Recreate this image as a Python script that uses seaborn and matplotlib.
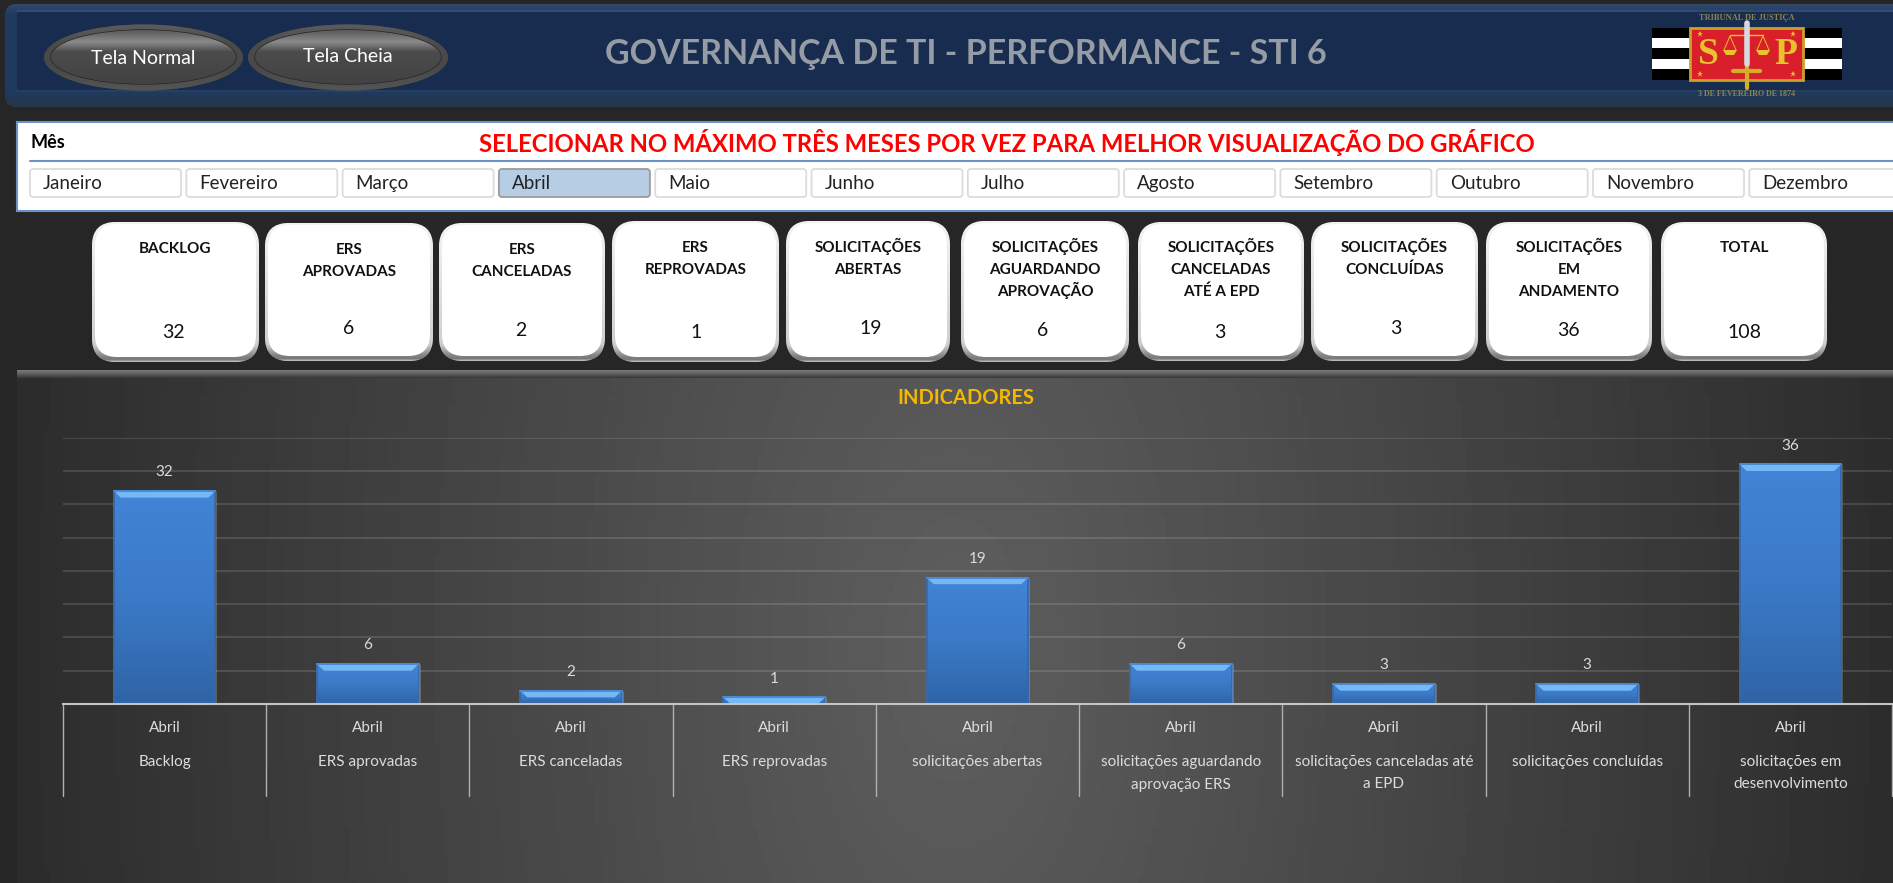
import numpy as np
import pandas as pd
import seaborn as sns
import matplotlib.pyplot as plt
from matplotlib.patches import FancyBboxPatch, Ellipse, Rectangle, Polygon
from matplotlib.colors import LinearSegmentedColormap
from matplotlib.transforms import blended_transform_factory

# Data
indicadores = ["Backlog", "ERS aprovadas", "ERS canceladas", "ERS reprovadas", "solicitações abertas",
               "solicitações aguardando\naprovação ERS", "solicitações canceladas até\na EPD",
               "solicitações concluídas", "solicitações em\ndesenvolvimento"]
valores = [32, 6, 2, 1, 19, 6, 3, 3, 36]
mes = "Abril"

card_titulos = ["BACKLOG", "ERS\nAPROVADAS", "ERS\nCANCELADAS", "ERS\nREPROVADAS", "SOLICITAÇÕES\nABERTAS",
                "SOLICITAÇÕES\nAGUARDANDO\nAPROVAÇÃO", "SOLICITAÇÕES\nCANCELADAS\nATÉ A EPD",
                "SOLICITAÇÕES\nCONCLUÍDAS", "SOLICITAÇÕES\nEM\nANDAMENTO", "TOTAL"]
card_valores = [32, 6, 2, 1, 19, 6, 3, 3, 36, 108]
meses = ["Janeiro", "Fevereiro", "Março", "Abril", "Maio", "Junho", "Julho", "Agosto",
         "Setembro", "Outubro", "Novembro", "Dezembro"]

W, H = 1893, 883
FONT = "Lato"

sns.set_theme(style="white")
plt.rcParams['font.family'] = [FONT, 'DejaVu Sans']

fig = plt.figure(figsize=(W / 100, H / 100), dpi=100, facecolor="#262626")

# Whole-figure layer in pixel coordinates for the dashboard furniture
bg = fig.add_axes([0, 0, 1, 1], zorder=0)
bg.axis("off")


def vgrad(ax, x0, x1, y0, y1, stops, clip=None, zorder=1):
    cmap = LinearSegmentedColormap.from_list("g", stops)
    im = ax.imshow(np.linspace(0, 1, 256)[:, None], cmap=cmap, extent=(x0, x1, y1, y0),
                   aspect="auto", zorder=zorder, origin="upper")
    if clip is not None:
        im.set_clip_path(clip)
    return im


def rbox(x0, y0, x1, y1, r, **kw):
    p = FancyBboxPatch((x0, y0), x1 - x0, y1 - y0, boxstyle=f"round,pad=0,rounding_size={r}", **kw)
    bg.add_patch(p)
    return p


# Header: lighter frame with a flat inner panel
head = rbox(5, 4, W + 30, 107, 12, fc="#1f3a5f", ec="none", zorder=1)
vgrad(bg, 0, W, 4, 107, [(0, "#33496a"), (0.1, "#1f3a5f"), (0.85, "#1f3a5f"), (1, "#27364c")], clip=head)
rbox(17, 11, W + 30, 91, 4, fc="#172c4e", ec="none", zorder=2)
bg.plot([17, W], [11, 11], color="#34507a", lw=1.2, zorder=2)
bg.plot([17, W], [91, 91], color="#2a4266", lw=1.2, zorder=2)

for (x0, x1, txt, ty) in [(44, 243, "Tela Normal", 59), (248, 448, "Tela Cheia", 57)]:
    cx, w = (x0 + x1) / 2, x1 - x0
    outer = Ellipse((cx, 57.5), w, 66, fc="#4a4a4a", ec="none", zorder=3)
    bg.add_patch(outer)
    vgrad(bg, x0, x1, 24, 91, ["#5c5c5c", "#4a4a4a", "#484848", "#555555"], clip=outer, zorder=3)
    inner = Ellipse((cx, 57), w - 14, 54, fc="#464646", ec="#252525", lw=1, zorder=4)
    bg.add_patch(inner)
    vgrad(bg, x0, x1, 30, 84, [(0, "#5a5a5a"), (0.22, "#8a8a8a"), (0.4, "#4c4c4c"), (1, "#424242")], clip=inner, zorder=4)
    bg.text(cx, ty, txt, color="white", fontsize=14, ha="center", va="center", zorder=5)

bg.text(966, 54, "GOVERNANÇA DE TI - PERFORMANCE - STI 6", color="#969ca5", fontsize=24.5, fontweight="bold",
        ha="center", va="center", zorder=3)

# Logo
for y0, y1, c in [(28, 38, "black"), (38, 48, "white"), (48, 59, "black"), (59, 69, "white"), (69, 80, "black")]:
    bg.add_patch(Rectangle((1652, y0), 190, y1 - y0, fc=c, ec="none", zorder=3))
bg.add_patch(Rectangle((1690, 28), 113, 52, fc="#d9202a", ec="#c9a227", lw=2, zorder=4))
bg.text(1708, 54, "S", color="#e8c22c", fontsize=27, fontweight="bold", family="Liberation Serif",
        ha="center", va="center", zorder=5)
bg.text(1786, 54, "P", color="#e8c22c", fontsize=27, fontweight="bold", family="Liberation Serif",
        ha="center", va="center", zorder=5)
bg.plot([1747, 1747], [62, 88], color="#d4ae2a", lw=3, zorder=5)
bg.plot([1747, 1747], [23, 64], color="#d8d8e0", lw=4, zorder=6)
bg.plot([1730, 1763], [35, 35], color="#e8c22c", lw=1, zorder=5)
bg.plot([1733, 1760], [71, 71], color="#d4ae2a", lw=3, zorder=5)
for sx in [1730, 1763]:
    bg.add_patch(Polygon([(sx - 7, 50), (sx + 7, 50), (sx + 4, 55), (sx - 4, 55)], fc="#e8c22c", ec="none", zorder=5))
    bg.plot([sx - 6, sx, sx + 6], [50, 36, 50], color="#e8c22c", lw=0.7, zorder=5)
bg.plot([1700, 1793, 1700, 1793], [34, 34, 74, 74], ls="none", marker="*", ms=5, color="#e8c22c", mew=0, zorder=5)
bg.text(1747, 18, "TRIBUNAL DE JUSTIÇA", color="#8a8550", fontsize=6, fontweight="bold",
        family="Liberation Serif", ha="center", va="center", zorder=5)
bg.text(1747, 94, "3 DE FEVEREIRO DE 1874", color="#8a8550", fontsize=5.8, fontweight="bold",
        family="Liberation Serif", ha="center", va="center", zorder=5)

# Month slicer
bg.add_patch(Rectangle((17, 122), W, 89, fc="white", ec="#6a94c8", lw=1.5, zorder=1))
bg.plot([30, W], [161, 161], color="#6a94c8", lw=1.5, zorder=2)
bg.text(30, 148, "Mês", color="black", fontsize=13, fontweight="bold", va="baseline", zorder=3)
bg.text(1007, 143, "SELECIONAR NO MÁXIMO TRÊS MESES POR VEZ PARA MELHOR VISUALIZAÇÃO DO GRÁFICO", color="#ff0000",
        fontsize=17.2, fontweight="bold", ha="center", va="center", zorder=3)
for i, m in enumerate(meses):
    x0 = 30 + i * 156.3
    ativo = m == mes
    rbox(x0, 169, x0 + 151, 197, 3, fc="#b7cde4" if ativo else "white", ec="#9b9b9b" if ativo else "#dcdcdc",
         lw=1.3, zorder=2)
    bg.text(x0 + 13, 189, m, color="#222222", fontsize=13.5, va="baseline", zorder=3)

# KPI cards: left, right, top, bottom, y of first title line, centre and y of value
card_x0 = [92, 265, 439, 612, 786, 961, 1138, 1311, 1486, 1661]
card_x1 = [259, 433, 605, 779, 950, 1129, 1304, 1478, 1652, 1827]
card_y0 = [222, 223, 223, 221, 221, 221, 222, 222, 222, 222]
card_y1 = [362, 361, 361, 362, 362, 362, 361, 361, 361, 361]
title_y = [247, 248, 248, 246, 246, 246, 246, 246, 246, 246]
value_x = [173, 349, 521, 696, 871, 1043, 1220, 1396, 1568, 1744]
value_y = [332, 329, 330, 332, 329, 330, 332, 329, 330, 332]
for i in range(len(card_titulos)):
    x0, x1, y0, y1 = card_x0[i], card_x1[i], card_y0[i], card_y1[i]
    outer = rbox(x0, y0, x1, y1, 24, fc="#9a9a9a", ec="none", zorder=1)
    vgrad(bg, x0, x1, y0, y1, [(0, "#f4f4f4"), (0.88, "#cfcfcf"), (0.96, "#858585"), (0.985, "#777777"), (1, "#c4c4c4")],
          clip=outer, zorder=1)
    rbox(x0 + 3, y0 + 2, x1 - 3, y1 - 5, 22, fc="white", ec="none", zorder=2)
    cx = (x0 + x1) / 2
    for j, linha in enumerate(card_titulos[i].split("\n")):
        bg.text(cx, title_y[i] + 6 + j * 22, linha, color="#111111", fontsize=11, fontweight="bold",
                ha="center", va="baseline", zorder=3)
    bg.text(value_x[i], value_y[i], str(card_valores[i]), color="#111111", fontsize=14, ha="center", va="center", zorder=3)

# Chart panel background
xx = (np.linspace(17, W, 400) - 955) / 940
yy = (np.linspace(378, H, 120)[:, None] - 650) / 400
panel = 0.175 + 0.195 * np.clip(1 - np.sqrt(xx ** 2 + 0.05 * yy ** 2), 0, 1)
bg.imshow(np.clip(panel, 0, 1), cmap="gray", vmin=0, vmax=1, extent=(17, W, H, 378), aspect="auto", zorder=1)
vgrad(bg, 17, W, 370, 378, ["#7c7c7c", "#5e5e5e", "#363636"], zorder=2)
bg.text(966, 398, "INDICADORES", color="#f5b800", fontsize=14.5, fontweight="bold", ha="center", va="center", zorder=3)

bg.set_xlim(0, W)
bg.set_ylim(H, 0)

# Chart
ax = fig.add_axes([63 / W, 1 - 704 / H, (1892 - 63) / W, (704 - 437.7) / H], zorder=2)
ax.patch.set_alpha(0)
df = pd.DataFrame({"indicador": indicadores, "valor": valores})
sns.barplot(data=df, x="indicador", y="valor", color="#3c7dcb", width=0.5, saturation=1, ax=ax, zorder=3)
ax.set_ylim(0, 40)
ax.set_xlim(-0.5, len(valores) - 0.5)
ax.set_yticks(range(0, 45, 5))
ax.set_xticks([])
ax.set_xlabel("")
ax.set_ylabel("")
ax.tick_params(left=False, labelleft=False, bottom=False)
ax.yaxis.grid(True, color="white", alpha=0.13, lw=1.4, zorder=0)
ax.set_axisbelow(True)
for s in ["top", "left", "right"]:
    ax.spines[s].set_visible(False)
ax.spines["bottom"].set_color("#c4c4c4")
ax.spines["bottom"].set_linewidth(1.5)
ax.spines["bottom"].set_zorder(6)

dx, dy = 7 / 203, 1.0
for bar in ax.patches:
    x, w, h = bar.get_x(), bar.get_width(), bar.get_height()
    vgrad(ax, x, x + w, 0, h, ["#4284d6", "#3b7ac8", "#2f64a6"], zorder=3.1).set_extent((x, x + w, 0, h))
    ax.add_patch(Rectangle((x, 0), w, h, fc="none", ec="#3567a8", lw=1.2, zorder=3.2))
    ax.add_patch(Polygon([(x, h), (x + w, h), (x + w - dx, h - dy), (x + dx, h - dy)],
                         fc="#74b8f6", ec="none", zorder=3.3))
    ax.plot([x, x + w], [h, h], color="#4a8ad0", lw=1.4, zorder=3.4)
ax.set_xlim(-0.5, len(valores) - 0.5)
ax.set_ylim(0, 40)

ax.bar_label(ax.containers[0], padding=8.5, color="#dcdcdc", fontsize=11, zorder=6)

# Two-level category axis drawn below the bars
trans = blended_transform_factory(ax.transData, fig.transFigure)
for i in range(len(valores) + 1):
    ax.plot([i - 0.5, i - 0.5], [1 - 704 / H, 1 - 796 / H], color="#b0b0b0", lw=1, transform=trans, clip_on=False)
for i, nome in enumerate(indicadores):
    ax.text(i, 1 - 732 / H, mes, color="#dcdcdc", fontsize=11, ha="center", va="baseline", transform=trans)
    for j, linha in enumerate(nome.split("\n")):
        ax.text(i, 1 - (766 + j * 22.5) / H, linha, color="#dcdcdc", fontsize=11, ha="center", va="baseline", transform=trans)

fig.savefig("out.png", dpi=100, facecolor=fig.get_facecolor())
